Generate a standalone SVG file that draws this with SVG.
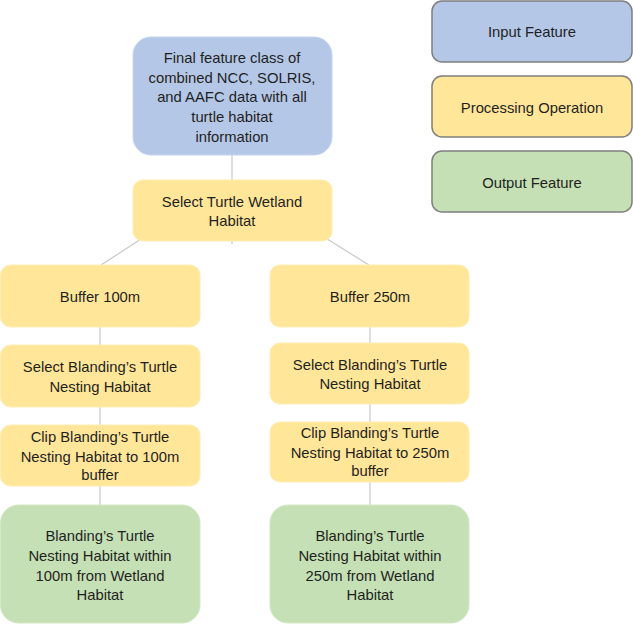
<svg xmlns="http://www.w3.org/2000/svg" width="633" height="625" viewBox="0 0 633 625">
<style>
.t{font-family:"Liberation Sans",Arial,sans-serif;font-size:14.8px;fill:#1F1F1F;text-anchor:middle}
.in{fill:#B4C7E7;stroke:#C5D4EE;stroke-width:1}
.pr{fill:#FFE699;stroke:#FFEDB3;stroke-width:1}
.out{fill:#C5E0B4;stroke:#D3E8C6;stroke-width:1}
.lg{stroke:#7F7F7F;stroke-width:1.5}
.c{stroke:#C8C8C8;stroke-width:1.2;fill:none}
</style>
<rect width="633" height="625" fill="#FFFFFF"/>
<g id="connectors">
<line class="c" x1="232" y1="155" x2="232" y2="244"/>
<line class="c" x1="232" y1="180" x2="101" y2="265"/>
<line class="c" x1="232" y1="180" x2="369" y2="265"/>
<line class="c" x1="100" y1="300" x2="100" y2="560"/>
<line class="c" x1="370" y1="300" x2="370" y2="560"/>
</g>
<g id="legend-input">
<rect class="in lg" x="432" y="1" width="200" height="61" rx="10"/>
<text class="t" x="532" y="37">Input Feature</text>
</g>
<g id="legend-processing">
<rect class="pr lg" x="432" y="76" width="200" height="61" rx="10"/>
<text class="t" x="532" y="113">Processing Operation</text>
</g>
<g id="legend-output">
<rect class="out lg" x="432" y="151" width="200" height="61" rx="10"/>
<text class="t" x="532" y="188">Output Feature</text>
</g>
<g id="final-feature-class">
<rect class="in" x="133" y="37" width="199" height="118" rx="18"/>
<text class="t" x="232" y="63">Final feature class of</text>
<text class="t" x="232" y="83">combined NCC, SOLRIS,</text>
<text class="t" x="232" y="102">and AAFC data with all</text>
<text class="t" x="232" y="122">turtle habitat</text>
<text class="t" x="232" y="142">information</text>
</g>
<g id="select-wetland">
<rect class="pr" x="133" y="180" width="199" height="61" rx="10"/>
<text class="t" x="232" y="207">Select Turtle Wetland</text>
<text class="t" x="232" y="226">Habitat</text>
</g>
<g id="buffer-100">
<rect class="pr" x="0.5" y="265" width="199.5" height="62" rx="10"/>
<text class="t" x="100" y="302">Buffer 100m</text>
</g>
<g id="select-nesting-100">
<rect class="pr" x="0.5" y="345" width="199.5" height="62" rx="10"/>
<text class="t" x="100" y="372">Select Blanding’s Turtle</text>
<text class="t" x="100" y="392">Nesting Habitat</text>
</g>
<g id="clip-100">
<rect class="pr" x="0.5" y="425" width="199.5" height="61" rx="10"/>
<text class="t" x="100" y="442">Clip Blanding’s Turtle</text>
<text class="t" x="100" y="462">Nesting Habitat to 100m</text>
<text class="t" x="100" y="480">buffer</text>
</g>
<g id="output-100">
<rect class="out" x="0.5" y="505" width="199.5" height="118" rx="18"/>
<text class="t" x="100" y="541">Blanding’s Turtle</text>
<text class="t" x="100" y="561">Nesting Habitat within</text>
<text class="t" x="100" y="581">100m from Wetland</text>
<text class="t" x="100" y="600">Habitat</text>
</g>
<g id="buffer-250">
<rect class="pr" x="270" y="265" width="199" height="62" rx="10"/>
<text class="t" x="370" y="302">Buffer 250m</text>
</g>
<g id="select-nesting-250">
<rect class="pr" x="270" y="343" width="199" height="61" rx="10"/>
<text class="t" x="370" y="370">Select Blanding’s Turtle</text>
<text class="t" x="370" y="389">Nesting Habitat</text>
</g>
<g id="clip-250">
<rect class="pr" x="270" y="422" width="199" height="60" rx="10"/>
<text class="t" x="370" y="438">Clip Blanding’s Turtle</text>
<text class="t" x="370" y="458">Nesting Habitat to 250m</text>
<text class="t" x="370" y="476">buffer</text>
</g>
<g id="output-250">
<rect class="out" x="270" y="505" width="199" height="118" rx="18"/>
<text class="t" x="370" y="541">Blanding’s Turtle</text>
<text class="t" x="370" y="561">Nesting Habitat within</text>
<text class="t" x="370" y="581">250m from Wetland</text>
<text class="t" x="370" y="600">Habitat</text>
</g>
</svg>
